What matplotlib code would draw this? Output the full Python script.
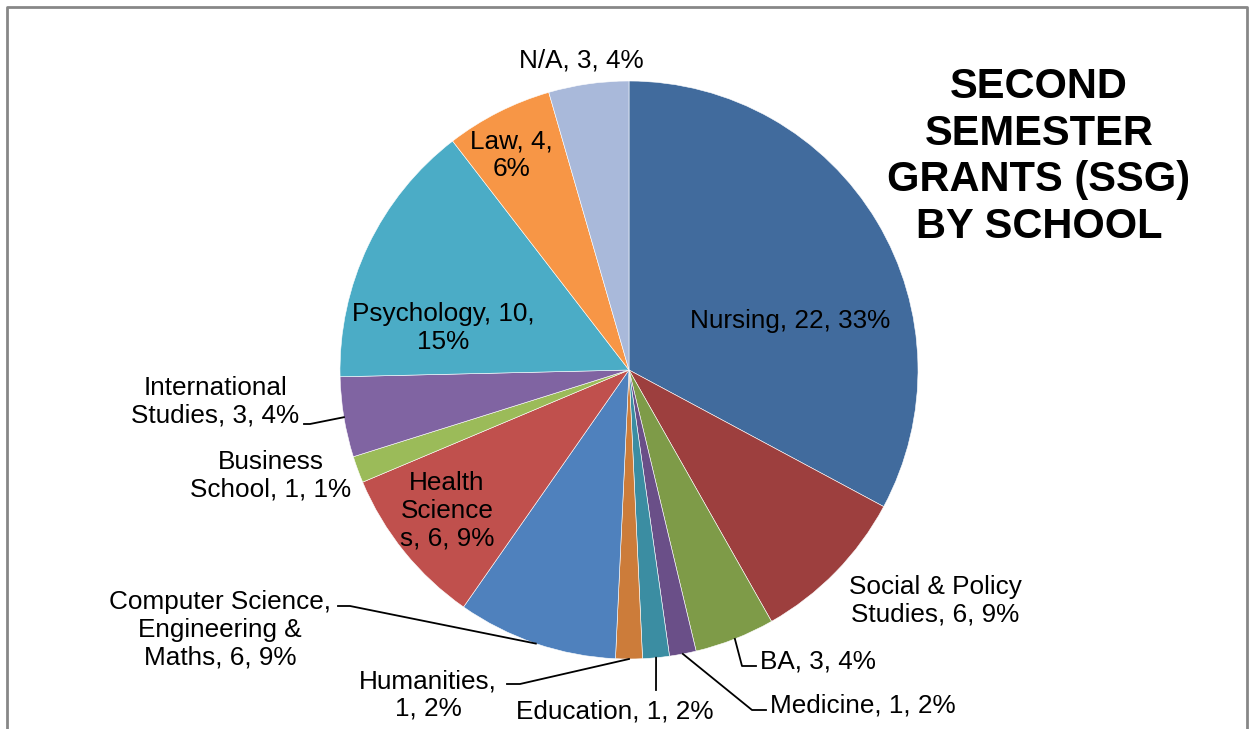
import matplotlib
matplotlib.use("Agg")
import matplotlib.pyplot as plt
import numpy as np

plt.rcParams['font.family'] = ['Liberation Sans', 'DejaVu Sans']

schools = ["Nursing", "Social & Policy Studies", "BA", "Medicine", "Education",
           "Humanities", "Computer Science, Engineering & Maths", "Health Sciences",
           "Business School", "International Studies", "Psychology", "Law", "N/A"]
counts = [22, 6, 3, 1, 1, 1, 6, 6, 1, 3, 10, 4, 3]
label_texts = ["Nursing, 22, 33%", "Social & Policy\nStudies, 6, 9%", "BA, 3, 4%",
               "Medicine, 1, 2%", "Education, 1, 2%", "Humanities,\n1, 2%",
               "Computer Science,\nEngineering &\nMaths, 6, 9%", "Health\nScience\ns, 6, 9%",
               "Business\nSchool, 1, 1%", "International\nStudies, 3, 4%",
               "Psychology, 10,\n15%", "Law, 4,\n6%", "N/A, 3, 4%"]
colors = ["#416B9D", "#9D3F3E", "#7E9B48", "#6A4F88", "#3B8DA2", "#CC7C3A",
          "#4F81BD", "#C0504D", "#9BBB59", "#8064A2", "#4BACC6", "#F79646", "#A9B9DA"]
title = "SECOND\nSEMESTER\nGRANTS (SSG)\nBY SCHOOL"

W, H = 1252, 729
fig = plt.figure(figsize=(W / 100, H / 100), dpi=100)
ax = fig.add_axes([0, 0, 1, 1])

def P(x, y):
    return (x, H - y)

cx, cy, R = 629, 370, 289
wedges, _ = ax.pie(counts, colors=colors, startangle=90, counterclock=False,
                   center=P(cx, cy), radius=R, frame=True,
                   wedgeprops=dict(edgecolor='white', linewidth=0.4))
ax.set_xlim(0, W)
ax.set_ylim(0, H)
ax.set_aspect('auto')
ax.axis('off')

# frame
ax.plot([7, 7, 1247, 1247], [-5, H - 7, H - 7, -5], color='#878787', lw=2, clip_on=False)

fs = 18.8
layout = {
    0: dict(pos=(790, 321), ha='center', lead=None),
    1: dict(pos=(935, 601), ha='center', lead=None),
    2: dict(pos=(760, 661), ha='left', lead=[(742, 666), (756, 666)]),
    3: dict(pos=(770, 705), ha='left', lead=[(752, 710), (766, 710)]),
    4: dict(pos=(615, 711), ha='center', lead=[(656, 690)]),
    5: dict(pos=(428, 695), ha='center', lead=[(520, 684), (507, 684)]),
    6: dict(pos=(220, 630), ha='center', lead=[(350, 606), (338, 606)]),
    7: dict(pos=(447, 511), ha='center', lead=None),
    8: dict(pos=(271, 476), ha='center', lead=None),
    9: dict(pos=(215, 402), ha='center', lead=[(310, 424), (304, 424)]),
    10: dict(pos=(443, 328), ha='center', lead=None),
    11: dict(pos=(511, 155), ha='center', lead=None),
    12: dict(pos=(581, 60), ha='center', lead=None),
}

for i, w in enumerate(wedges):
    L = layout[i]
    x, y = P(*L['pos'])
    ax.text(x, y, label_texts[i], ha=L['ha'], va='center', fontsize=fs,
            linespacing=1.2, color='black')
    if L['lead']:
        ang = np.deg2rad((w.theta1 + w.theta2) / 2)
        sx = w.center[0] + w.r * np.cos(ang)
        sy = w.center[1] + w.r * np.sin(ang)
        xs = [sx] + [p[0] for p in L['lead']]
        ys = [sy] + [H - p[1] for p in L['lead']]
        ax.plot(xs, ys, color='black', lw=1.3)

ax.text(1039, H - 157, title, ha='center', va='center', fontsize=30,
        fontweight='bold', linespacing=1.22)

fig.savefig("out.png", dpi=100)
